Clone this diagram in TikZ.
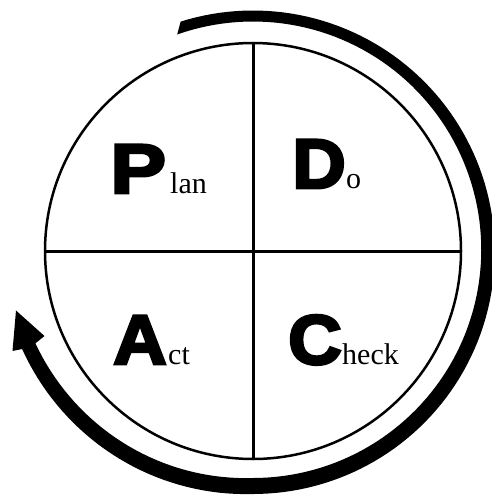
\documentclass[tikz,border=0pt]{standalone}
\usepackage{fontspec}
\newfontfamily\heavy[FakeBold=4,FakeStretch=1.06]{Liberation Sans Bold}
\newfontfamily\heavywide[FakeBold=4,FakeStretch=1.2]{Liberation Sans Bold}
\newfontfamily\serifsm{Liberation Serif}
\begin{document}
\begin{tikzpicture}[x=1pt,y=-1pt,
  declare function={rr(\t)=235+9*max(0,-90-\t)/70; ww(\t)=13.5+2.5*cos(\t+90);},
  big/.style={anchor=base west,inner sep=0pt,font=\heavy\fontsize{70}{70}\selectfont},
  bigwide/.style={anchor=base west,inner sep=0pt,font=\heavywide\fontsize{70}{70}\selectfont},
  small/.style={anchor=base west,inner sep=0pt,font=\serifsm\fontsize{30}{30}\selectfont},
  divider/.style={line width=3pt}]
\fill[white] (0,0) rectangle (492,495);
\useasboundingbox (0,0) rectangle (492,495);
% cycle arrow
\fill[black]
  plot[domain=107.5:-157,samples=140,variable=\t]
    ({253+(rr(\t)+ww(\t)/2)*cos(\t)},{251-(rr(\t)+ww(\t)/2)*sin(\t)})
  -- (12.5,351) -- (16,310.5) -- (44.5,336)
  -- plot[domain=-157:109.3,samples=140,variable=\t]
    ({253+(rr(\t)-ww(\t)/2)*cos(\t)},{251-(rr(\t)-ww(\t)/2)*sin(\t)})
  -- cycle;
% circle and dividers
\node[circle,draw,line width=2.5pt,minimum size=416pt,inner sep=0pt] (c) at (253,251) {};
\draw[divider] (c.north) -- (c.south);
\draw[divider] (c.west) -- (c.east);
% labels
\node[bigwide] (P) at (110,193) {P};
\node[small] (lan) at (170,193) {lan};
\node[big] (D) at (292,188) {D};
\node[small] (o) at (346,188) {o};
\node[big] (A) at (113,364) {A};
\node[small] (ct) at (168,364) {ct};
\node[big] (C) at (288,364) {C};
\node[small] (heck) at (342,364) {heck};
\end{tikzpicture}
\end{document}
